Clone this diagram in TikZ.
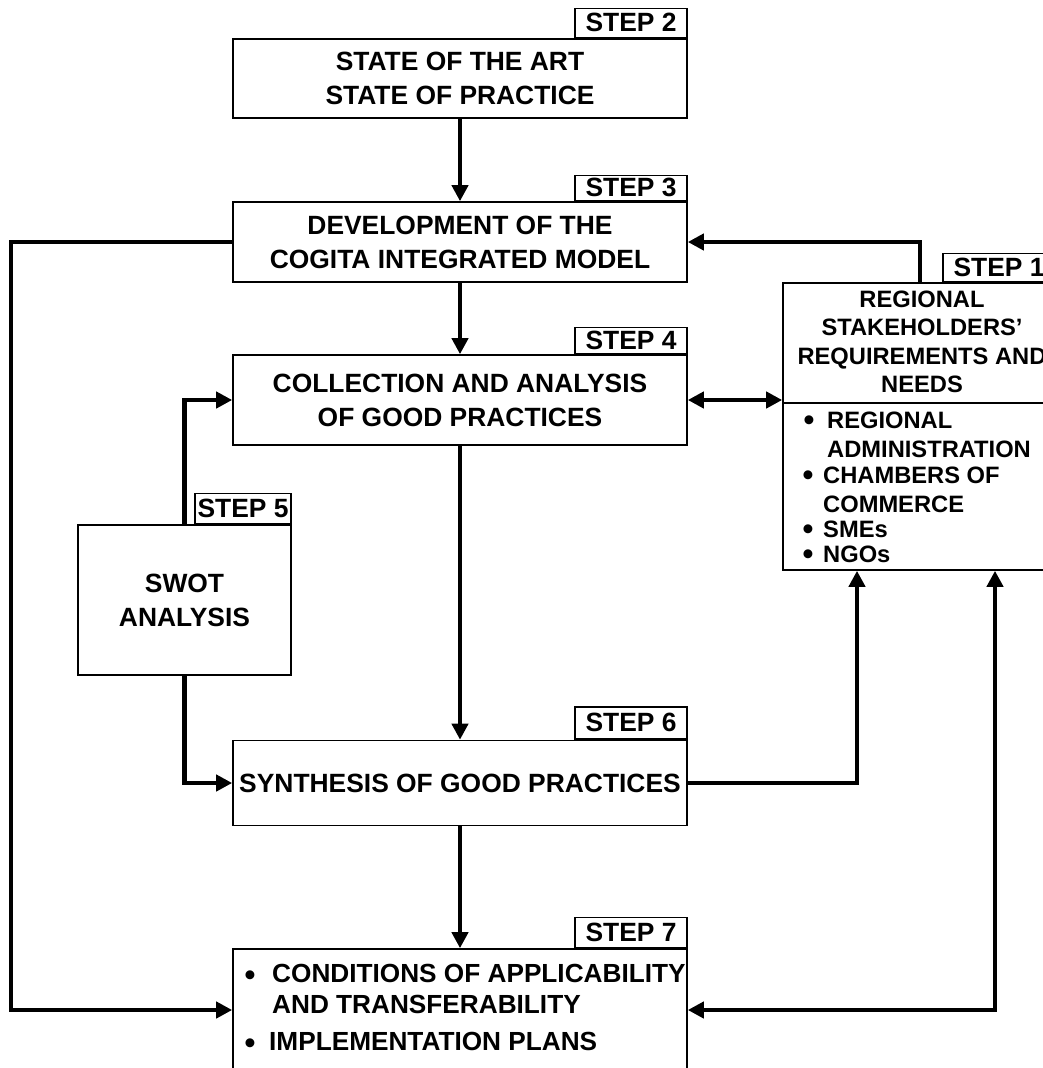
\documentclass[tikz,border=0pt]{standalone}
\usepackage{fontspec}
\setmainfont{Liberation Sans}
\usetikzlibrary{arrows.meta}
\newcommand\mainf{\fontsize{26.4}{34}\selectfont\bfseries}
\newcommand\smallf{\fontsize{23.7}{28.4}\selectfont\bfseries}
\newcommand\listf{\fontsize{26.2}{31}\selectfont\bfseries}
\newcommand\bulf{\fontsize{31}{31}\selectfont\bfseries}
\begin{document}
\begin{tikzpicture}[x=1pt,y=-1pt,
  >={Triangle[length=16pt,width=16pt]},
  box/.style={draw, line width=1.6pt, inner sep=0pt, align=center, font=\mainf},
  steplbl/.style={draw, line width=1.6pt, inner sep=0pt, minimum width=112pt, anchor=south east, font=\mainf},
  conn/.style={line width=4.2pt},
  txta/.style={inner sep=0pt, anchor=base west, font=\smallf},
  txtb/.style={inner sep=0pt, anchor=base west, font=\listf},
  bul/.style={inner sep=0pt, anchor=base, font=\bulf, text height=14pt, text depth=0pt}]
\useasboundingbox (0,0) rectangle (1043,1068);
\clip (0,0) rectangle (1043,1068);
% boxes
\node[box, minimum width=454pt, minimum height=79pt] (s2) at (460,78.5) {STATE OF THE ART\\STATE OF PRACTICE};
\node[box, minimum width=454pt, minimum height=80pt] (s3) at (460,242) {DEVELOPMENT OF THE\\COGITA INTEGRATED MODEL};
\node[box, minimum width=454pt, minimum height=90pt] (s4) at (460,400) {COLLECTION AND ANALYSIS\\OF GOOD PRACTICES};
\node[box, minimum width=213pt, minimum height=150pt] (s5) at (184.5,600) {SWOT\\ANALYSIS};
\node[box, minimum width=454pt, minimum height=85pt] (s6) at (460,783) {SYNTHESIS OF GOOD PRACTICES};
\node[box, minimum width=454pt, minimum height=122pt] (s7) at (460,1010) {};
\node[box, minimum width=272pt, minimum height=287pt] (s1) at (919,426.5) {};
% step labels
\node[steplbl, minimum height=29pt] (l2) at (s2.north east) {STEP 2};
\node[steplbl, minimum height=25pt] (l3) at (s3.north east) {STEP 3};
\node[steplbl, minimum height=26pt] (l4) at (s4.north east) {STEP 4};
\node[steplbl, minimum height=30pt, minimum width=96pt] (l5) at (s5.north east) {STEP 5};
\node[steplbl, minimum height=32pt] (l6) at (s6.north east) {STEP 6};
\node[steplbl, minimum height=30pt] (l7) at (s7.north east) {STEP 7};
\node[steplbl, minimum height=28pt] (l1) at (s1.north east) {STEP 1};
% step 1 contents
\node[inner sep=0pt, align=center, font=\smallf] (h1) at (922,342) {REGIONAL\\STAKEHOLDERS’\\REQUIREMENTS AND\\NEEDS};
\coordinate (dv) at (0,403);
\draw[line width=1.6pt] (s1.west |- dv) -- (s1.east |- dv);
\node[bul] (b1) at (809,430) {•};
\node[txta] (t1) at (827,428) {REGIONAL};
\node[txta] (t2) at (827,457) {ADMINISTRATION};
\node[bul] (b2) at (808,485) {•};
\node[txta] (t3) at (823,483) {CHAMBERS OF};
\node[txta] (t4) at (823,512) {COMMERCE};
\node[bul] (b3) at (808,539) {•};
\node[txta] (t5) at (823,537) {SMEs};
\node[bul] (b4) at (808,564) {•};
\node[txta] (t6) at (823,562) {NGOs};
% step 7 contents
\node[bul] (b5) at (250,985) {•};
\node[txtb] (u1) at (272,982) {CONDITIONS OF APPLICABILITY};
\node[txtb] (u2) at (272,1013) {AND TRANSFERABILITY};
\node[bul] (b6) at (250,1053) {•};
\node[txtb] (u3) at (269,1050) {IMPLEMENTATION PLANS};
% connectors
\draw[conn,->] (s2.south) -- (s3.north);
\draw[conn,->] (s3.south) -- (s4.north);
\draw[conn,->] (s4.south) -- (s6.north);
\draw[conn,->] (s6.south) -- (s7.north);
\coordinate (c1) at (920,0);
\draw[conn,->] (s1.north -| c1) |- (s3.east);
\draw[conn,<->] (s4.east) -- (s4.east -| s1.west);
\draw[conn,->] (s5.north) |- (s4.west);
\draw[conn,->] (s5.south) |- (s6.west);
\coordinate (c2) at (857,0);
\draw[conn,->] (s6.east) -| (s1.south -| c2);
\coordinate (c3) at (995,0);
\draw[conn,<->] (s1.south -| c3) |- (s7.east);
\coordinate (c4) at (11,0);
\draw[conn,->] (s3.west) -- (s3.west -| c4) |- (s7.west);
\end{tikzpicture}
\end{document}
